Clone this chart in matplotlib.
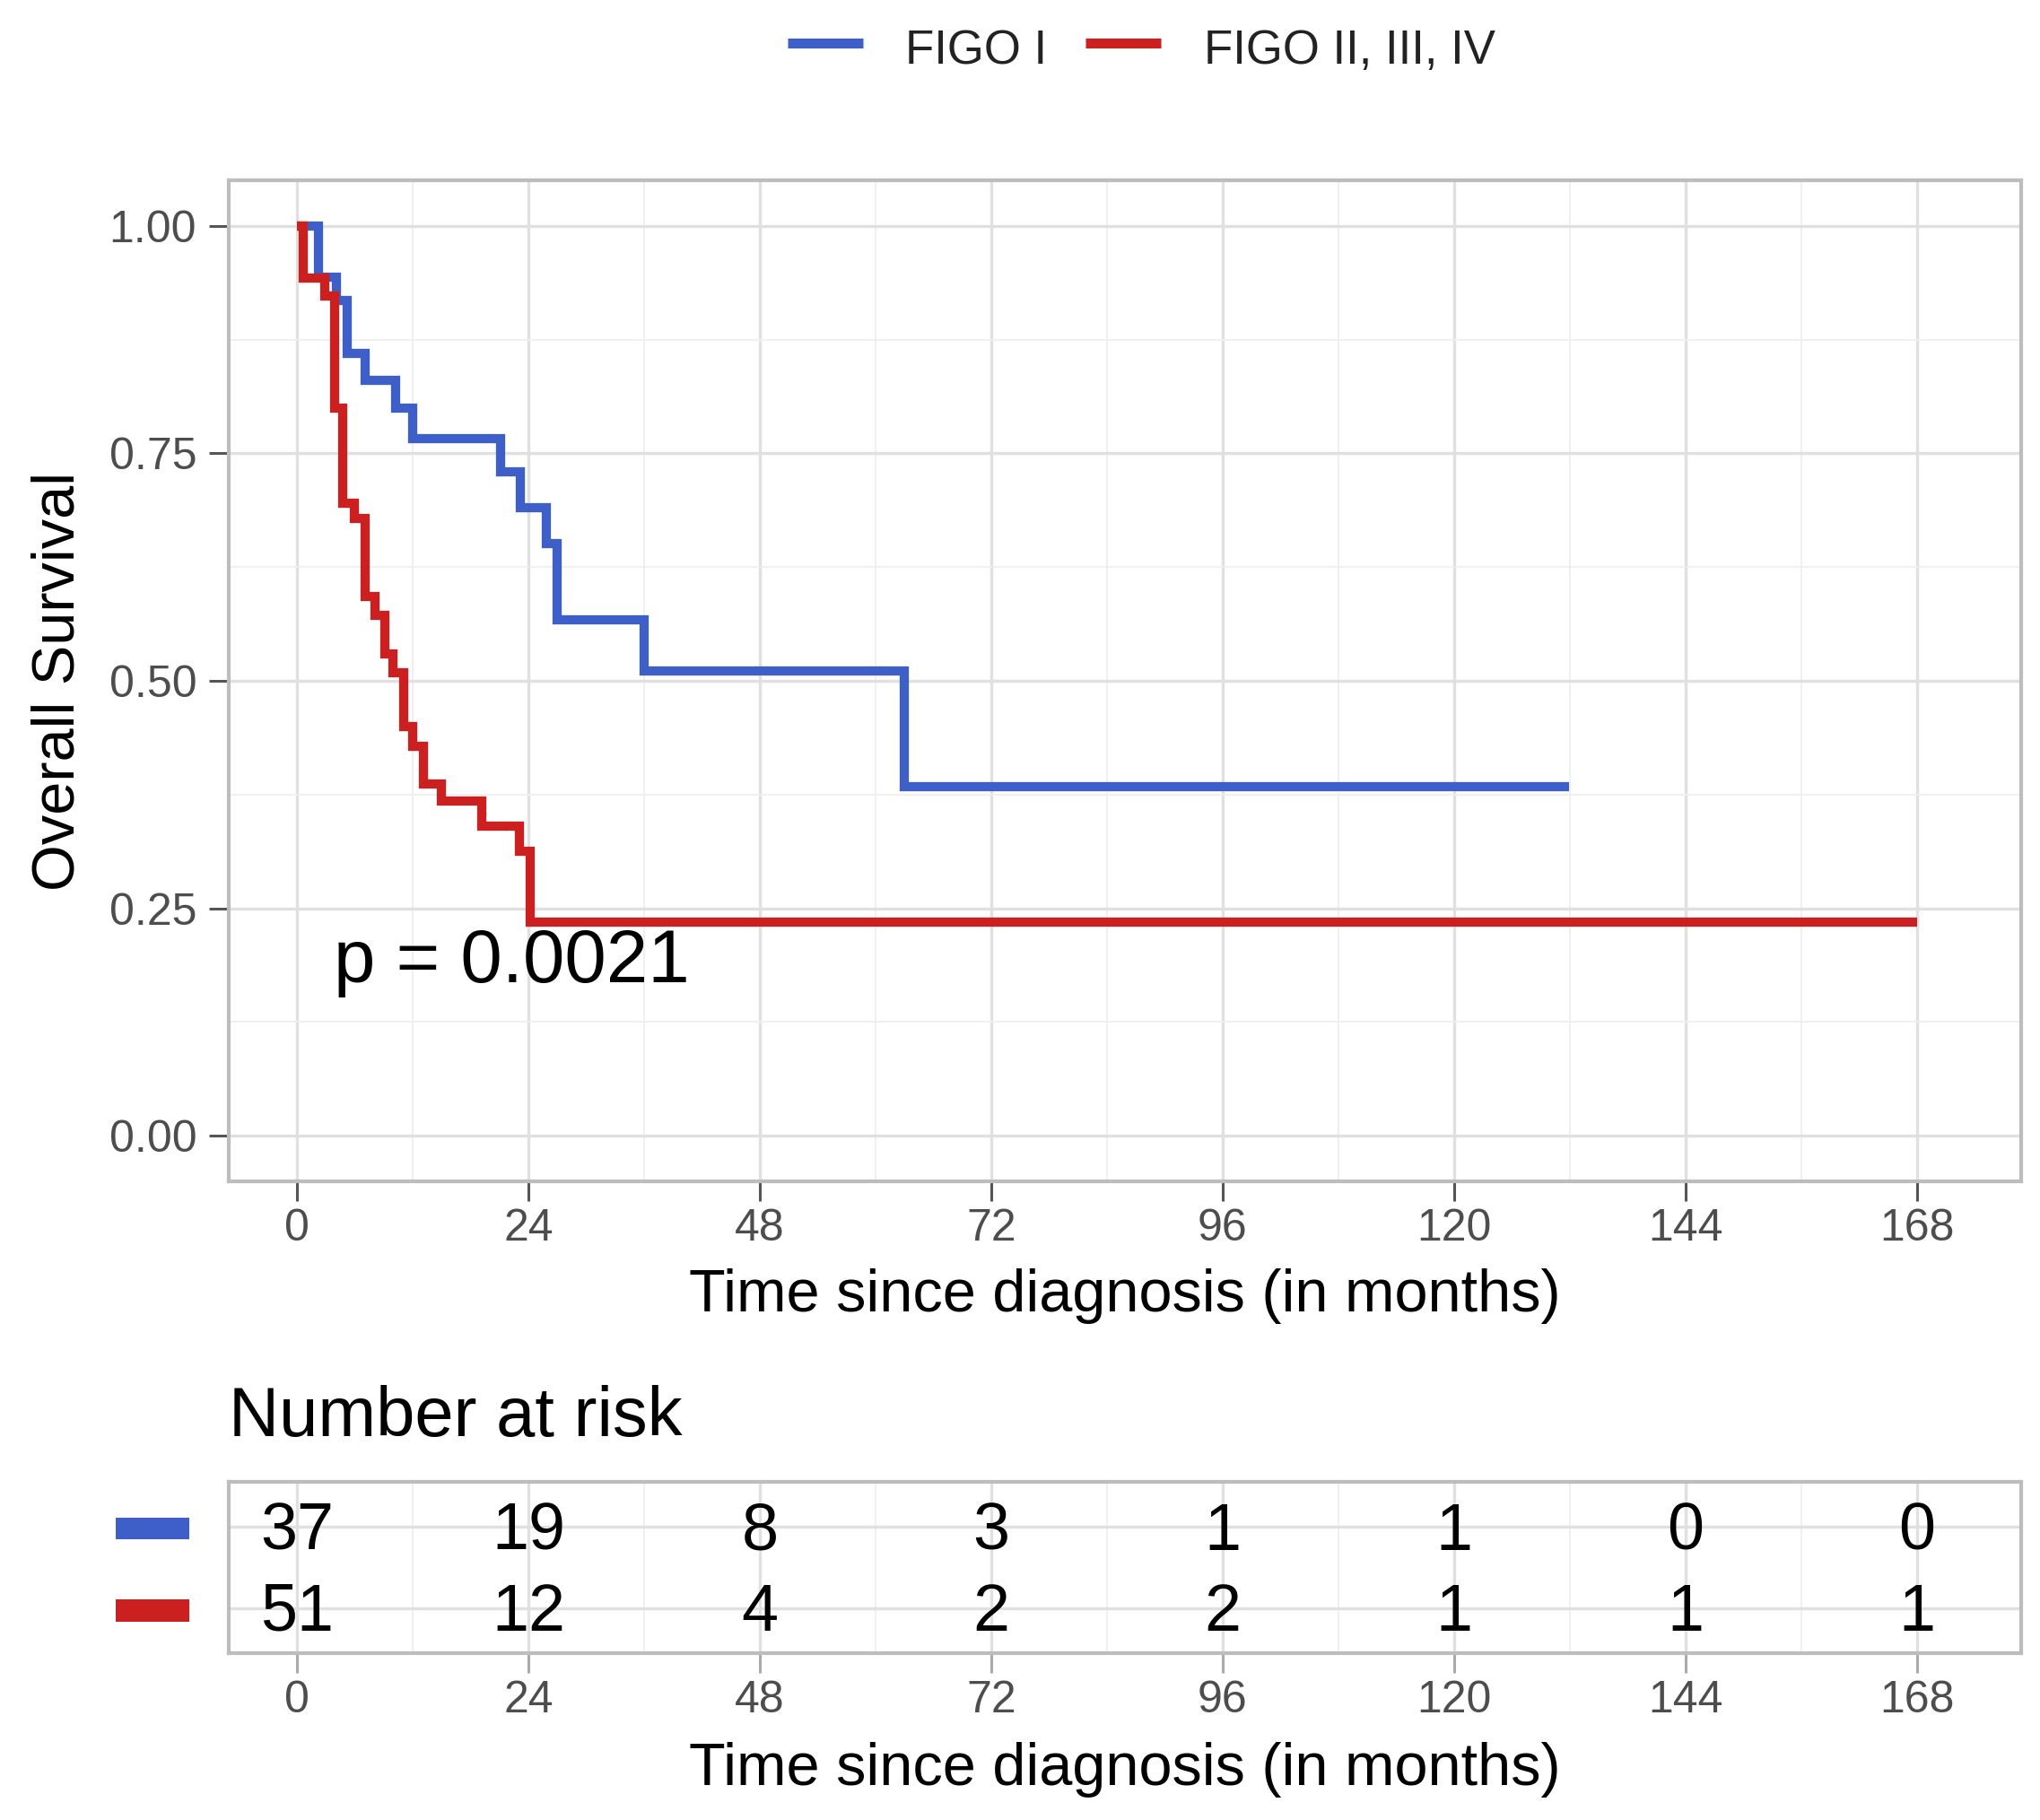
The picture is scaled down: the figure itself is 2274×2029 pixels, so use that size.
import matplotlib
matplotlib.use('Agg')
import matplotlib.pyplot as plt
from matplotlib.lines import Line2D
from matplotlib.patches import Rectangle

plt.rcParams['font.family'] = ['Liberation Sans', 'DejaVu Sans']

# ---------------- data ----------------
groups = ['FIGO I', 'FIGO II, III, IV']
colors = ['#3F5FC8', '#CC1F1F']

figo1_time = [0, 2.2, 4.1, 5.2, 7.1, 10.2, 12.0, 21.1, 23.2, 25.9, 27.0, 36.0, 63.0, 131.9]
figo1_surv = [1.0, 0.944, 0.918, 0.860, 0.830, 0.800, 0.766, 0.730, 0.690, 0.651, 0.567, 0.511, 0.384, 0.384]

figo2_time = [0, 0.65, 2.9, 3.9, 4.7, 6.0, 7.1, 8.1, 9.1, 10.0, 11.1, 12.0, 13.1, 15.0, 19.2, 23.1, 24.2, 168.0]
figo2_surv = [1.0, 0.943, 0.923, 0.800, 0.695, 0.678, 0.593, 0.572, 0.530, 0.509, 0.450, 0.428, 0.387, 0.368, 0.340, 0.313, 0.235, 0.235]

risk_times = [0, 24, 48, 72, 96, 120, 144, 168]
risk_figo1 = [37, 19, 8, 3, 1, 1, 0, 0]
risk_figo2 = [51, 12, 4, 2, 2, 1, 1, 1]

y_ticks = [0.0, 0.25, 0.5, 0.75, 1.0]
p_text = 'p = 0.0021'
x_title = 'Time since diagnosis (in months)'
y_title = 'Overall Survival'
risk_title = 'Number at risk'

# ---------------- layout ----------------
W, H = 2274, 2029
fig = plt.figure(figsize=(W / 100, H / 100), dpi=100)
fig.patch.set_facecolor('white')


def fx(px):
    return px / W


def fy(py):
    return 1 - py / H


PL, PR = 255, 2253
XLIM = (-7.07, 178.8)
GRID_MAJ = '#E0E0E0'
GRID_MIN = '#EFEFEF'
BORDER = '#BDBDBD'
TICKLAB = '#4D4D4D'


def style_axes(a):
    for s in a.spines.values():
        s.set_color(BORDER)
        s.set_linewidth(3)
    a.set_axisbelow(True)
    a.grid(which='major', color=GRID_MAJ, lw=2.4)
    a.grid(which='minor', color=GRID_MIN, lw=1.3)
    a.tick_params(which='minor', length=0)
    a.tick_params(which='major', length=15.8, width=2.2, color='#555555',
                  labelsize=36, labelcolor=TICKLAB)


# main survival panel
ax = fig.add_axes([fx(PL), fy(1317), (PR - PL) / W, (1317 - 201) / H])
ax.set_xlim(*XLIM)
ax.set_ylim(-0.05, 1.05)
ax.set_xticks(risk_times)
ax.set_xticks([t + 12 for t in risk_times[:-1]], minor=True)
ax.set_yticks(y_ticks)
ax.set_yticks([v + 0.125 for v in y_ticks[:-1]], minor=True)
ax.set_yticklabels(['%.2f' % v for v in y_ticks])
style_axes(ax)
ax.tick_params(axis='x', which='major', pad=6)
ax.tick_params(axis='y', which='major', pad=10)

for t, s, c in [(figo1_time, figo1_surv, colors[0]), (figo2_time, figo2_surv, colors[1])]:
    ax.step(t, s, where='post', color=c, lw=7.4,
            solid_joinstyle='miter', solid_capstyle='butt')

ax.text(3.8, 0.169, p_text, fontsize=60, ha='left', va='baseline', color='black')

fig.text(fx(66), fy(759), y_title, rotation=90, ha='center', va='center',
         fontsize=48, color='black')
fig.text(fx((PL + PR) / 2), fy(1462), x_title, ha='center', va='baseline',
         fontsize=48, color='black')

# legend
leg = [(878, 962, 1009), (1210, 1294, 1342)]
for (x0, x1, xt), g, c in zip(leg, groups, colors):
    fig.add_artist(Line2D([fx(x0), fx(x1)], [fy(48), fy(48)], transform=fig.transFigure,
                          color=c, lw=8, solid_capstyle='butt'))
    fig.text(fx(xt), fy(71), g, fontsize=38, ha='left', va='baseline', color='#222222')

# risk table
fig.text(fx(PL), fy(1601), risk_title, fontsize=56, ha='left', va='baseline', color='black')

rax = fig.add_axes([fx(PL), fy(1843), (PR - PL) / W, (1843 - 1652) / H])
rax.set_xlim(*XLIM)
rax.set_ylim(0.44, 2.56)
rax.set_xticks(risk_times)
rax.set_xticks([t + 12 for t in risk_times[:-1]], minor=True)
rax.set_yticks([1, 2])
rax.set_yticklabels([])
style_axes(rax)
rax.tick_params(axis='y', which='major', length=0)
rax.tick_params(axis='x', which='major', pad=6, color='#AAAAAA')

for t, n1, n2 in zip(risk_times, risk_figo1, risk_figo2):
    rax.text(t, 2 - 0.28, str(n1), fontsize=53, ha='center', va='baseline', color='black')
    rax.text(t, 1 - 0.28, str(n2), fontsize=53, ha='center', va='baseline', color='black')

for (ytop, ybot), c in zip([(1692, 1716), (1783, 1808)], colors):
    fig.add_artist(Rectangle((fx(129), fy(ybot)), (211 - 129) / W, (ybot - ytop) / H,
                             transform=fig.transFigure, facecolor=c, edgecolor='none'))

fig.text(fx((PL + PR) / 2), fy(1990), x_title, ha='center', va='baseline',
         fontsize=48, color='black')

fig.savefig('out.png', dpi=100)
